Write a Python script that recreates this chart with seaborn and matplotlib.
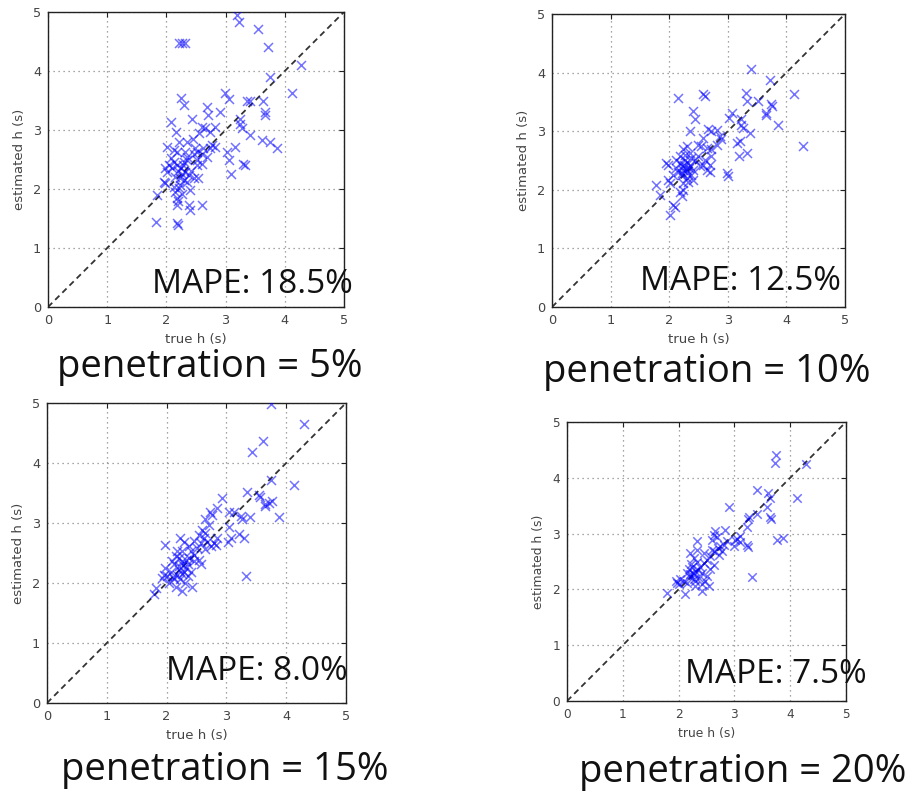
import matplotlib
matplotlib.use("Agg")
import matplotlib.pyplot as plt
import seaborn as sns
import pandas as pd

# ---- estimated vs. true headway, one sample set per penetration rate ----
true_h_5 = [3.19, 3.22, 3.55, 3.72, 2.22, 2.27, 2.31, 4.28, 3.75, 4.12,
            2.99, 3.06, 3.36, 3.41, 3.64, 2.25, 2.29, 2.68, 2.71, 2.91,
            3.66, 3.66, 3.24, 3.24, 3.27, 2.43, 2.08, 2.60, 2.66, 2.74,
            2.17, 3.41, 3.61, 3.75, 3.86, 2.01, 2.22, 2.35, 2.49, 2.74,
            2.82, 2.60, 3.03, 3.16, 3.05, 3.09, 3.30, 3.32, 2.12, 2.18,
            2.60, 2.29, 2.35, 1.98, 2.01, 1.96, 1.98, 1.84, 2.23, 2.23,
            2.21, 2.18, 2.18, 2.20, 2.38, 2.40, 2.40, 2.60, 1.82, 2.18,
            2.20, 2.54, 2.07, 2.52, 2.12, 2.18, 2.32, 2.46, 2.52, 2.68,
            2.77, 2.32, 2.38, 2.26, 2.15, 2.10, 2.46, 2.52, 2.35, 2.12,
            2.25, 2.28, 2.20, 2.30, 2.05, 2.15, 2.27, 2.42, 2.35, 2.62,
            2.45, 2.55, 2.82]
est_h_5 = [4.95, 4.83, 4.72, 4.41, 4.48, 4.48, 4.48, 4.10, 3.90, 3.63,
           3.62, 3.52, 3.50, 3.50, 3.50, 3.54, 3.42, 3.39, 3.25, 3.31,
           3.30, 3.26, 3.19, 3.11, 3.03, 3.19, 3.14, 3.05, 3.04, 2.97,
           2.97, 2.91, 2.83, 2.80, 2.69, 2.72, 2.79, 2.80, 2.70, 2.70,
           2.72, 2.60, 2.63, 2.72, 2.49, 2.26, 2.43, 2.41, 2.46, 2.41,
           2.43, 2.46, 2.49, 2.35, 2.29, 2.12, 2.10, 1.90, 2.18, 2.07,
           2.02, 1.84, 1.73, 1.79, 1.73, 1.65, 1.98, 1.73, 1.44, 1.42,
           1.39, 2.18, 2.52, 2.49, 2.66, 2.63, 2.63, 2.60, 2.63, 2.55,
           2.74, 2.29, 2.24, 2.26, 2.21, 2.35, 2.18, 2.41, 2.12, 2.04,
           2.35, 2.40, 2.30, 2.15, 2.40, 1.95, 1.92, 2.30, 2.55, 2.70,
           2.85, 2.95, 3.05]

true_h_10 = [3.40, 3.72, 4.13, 3.31, 3.32, 3.52, 3.74, 3.76, 2.15, 2.58,
             2.61, 2.40, 2.44, 3.08, 3.02, 3.23, 3.66, 3.65, 3.86, 3.23,
             3.26, 3.38, 4.28, 3.20, 3.15, 3.32, 3.19, 2.99, 3.00, 2.35,
             2.66, 2.72, 2.81, 2.89, 2.49, 2.58, 2.55, 2.64, 2.72, 2.81,
             2.72, 2.69, 2.58, 2.61, 2.30, 2.24, 1.95, 1.98, 1.78, 1.84,
             1.98, 2.01, 2.07, 2.10, 2.01, 2.18, 2.21, 2.24, 2.12, 2.18,
             2.21, 2.24, 2.30, 2.15, 2.27, 2.32, 2.35, 2.41, 2.21, 2.30,
             2.18, 2.38, 2.44, 2.35, 2.27, 2.12, 2.07, 2.38, 2.32, 2.24,
             2.41, 2.64, 2.69, 2.52, 2.49, 2.86, 2.25, 2.28, 2.22, 2.33]
est_h_10 = [4.06, 3.87, 3.63, 3.65, 3.51, 3.51, 3.46, 3.43, 3.57, 3.63,
            3.60, 3.34, 3.20, 3.31, 3.23, 3.20, 3.31, 3.28, 3.11, 3.11,
            3.06, 2.97, 2.74, 2.83, 2.80, 2.63, 2.57, 2.29, 2.24, 3.00,
            3.03, 3.01, 3.02, 2.86, 2.77, 2.89, 2.74, 2.71, 2.69, 2.77,
            2.57, 2.43, 2.43, 2.51, 2.74, 2.69, 2.46, 2.43, 2.09, 1.91,
            2.17, 2.11, 1.74, 1.71, 1.57, 1.97, 1.89, 2.00, 2.51, 2.46,
            2.40, 2.34, 2.29, 2.31, 2.51, 2.46, 2.40, 2.34, 2.26, 2.20,
            2.57, 2.54, 2.51, 2.63, 2.60, 2.37, 2.26, 2.26, 2.14, 2.11,
            2.17, 2.34, 2.31, 2.40, 2.57, 2.91, 2.42, 2.36, 2.28, 2.38]

true_h_15 = [3.74, 4.30, 3.62, 3.42, 3.74, 4.13, 3.34, 3.54, 3.56, 3.65,
             3.71, 3.64, 3.77, 3.88, 3.40, 2.93, 2.84, 3.04, 3.13, 3.24,
             3.26, 3.21, 3.30, 3.03, 3.07, 3.32, 2.60, 2.65, 2.71, 2.79,
             2.82, 1.98, 1.82, 1.79, 2.26, 2.43, 2.76, 2.72, 2.65, 3.04,
             2.23, 2.29, 2.18, 2.21, 2.26, 2.32, 2.35, 2.40, 2.46, 2.51,
             2.57, 2.62, 2.12, 2.07, 1.96, 2.01, 1.93, 2.12, 2.18, 2.23,
             2.29, 2.35, 2.15, 2.04, 2.40, 2.46, 2.54, 2.65, 2.74, 2.85,
             2.68, 2.57, 2.37, 2.26, 2.09, 2.21, 1.98, 2.20, 2.28, 2.15,
             2.32, 2.25, 2.10, 2.45, 2.55, 2.30, 2.38]
est_h_15 = [4.99, 4.65, 4.36, 4.18, 3.72, 3.64, 3.52, 3.47, 3.44, 3.32,
            3.34, 3.28, 3.36, 3.10, 3.10, 3.41, 3.25, 3.19, 3.18, 3.11,
            3.07, 2.81, 2.75, 2.69, 2.75, 2.11, 2.89, 2.83, 2.97, 2.67,
            2.63, 2.63, 1.92, 1.81, 1.86, 1.94, 3.14, 3.19, 3.06, 2.94,
            2.75, 2.69, 2.53, 2.42, 2.36, 2.39, 2.31, 2.53, 2.47, 2.58,
            2.67, 2.75, 2.31, 2.19, 2.14, 2.11, 2.08, 2.06, 2.14, 2.06,
            2.19, 2.11, 1.94, 2.00, 2.19, 2.36, 2.39, 2.56, 2.61, 2.75,
            2.69, 2.31, 2.61, 2.53, 2.36, 2.22, 2.25, 2.28, 2.30, 2.45,
            2.25, 2.15, 2.10, 2.70, 2.80, 2.00, 2.42]

true_h_20 = [3.74, 3.73, 4.28, 4.12, 3.40, 3.61, 3.64, 2.91, 3.27, 3.25,
             3.41, 3.58, 3.64, 3.65, 3.76, 3.87, 3.22, 3.01, 3.10, 3.04,
             3.10, 3.00, 3.24, 3.22, 3.31, 2.63, 2.66, 2.69, 2.84, 2.60,
             2.75, 2.78, 2.87, 2.33, 1.79, 1.96, 2.12, 2.42, 2.21, 2.27,
             2.33, 2.24, 2.18, 2.30, 2.39, 2.45, 2.51, 2.57, 2.42, 2.36,
             2.27, 2.15, 2.51, 2.48, 2.57, 2.63, 2.21, 2.09, 2.30, 2.42,
             2.03, 2.54, 2.72, 2.63, 2.81, 2.45, 2.33, 2.25, 2.20, 2.28,
             2.35, 2.22, 2.15, 2.30, 2.60, 2.70, 2.00, 1.98]
est_h_20 = [4.40, 4.26, 4.24, 3.63, 3.78, 3.72, 3.64, 3.48, 3.30, 3.26,
            3.36, 3.48, 3.30, 3.26, 2.89, 2.93, 3.12, 2.88, 2.85, 2.90,
            2.95, 2.77, 2.76, 2.80, 2.22, 2.98, 3.04, 2.94, 3.07, 2.89,
            2.77, 2.68, 2.86, 2.86, 1.94, 2.15, 1.91, 1.97, 2.65, 2.56,
            2.50, 2.41, 2.36, 2.33, 2.41, 2.47, 2.53, 2.59, 2.30, 2.21,
            2.18, 2.12, 2.24, 2.15, 2.36, 2.44, 2.27, 2.15, 2.06, 2.09,
            2.18, 2.06, 2.62, 2.68, 2.80, 2.65, 2.71, 2.30, 2.22, 2.25,
            2.35, 2.45, 2.30, 2.15, 2.70, 2.75, 2.10, 2.12]

penetration = ["5%", "10%", "15%", "20%"]
mape = ["18.5%", "12.5%", "8.0%", "7.5%"]
axis_ticks = [0, 1, 2, 3, 4, 5]

frames = []
for pen, xs, ys in zip(penetration,
                       [true_h_5, true_h_10, true_h_15, true_h_20],
                       [est_h_5, est_h_10, est_h_15, est_h_20]):
    frames.append(pd.DataFrame({"true": xs, "est": ys, "penetration": pen}))
df = pd.concat(frames, ignore_index=True)

sns.set_style("white")
plt.rcParams["font.family"] = ["DejaVu Sans"]

W, H = 913, 797
fig = plt.figure(figsize=(W / 100, H / 100), dpi=100)
fig.patch.set_facecolor("white")

# panel frames in pixels: left, top, right, bottom
boxes = [(48, 12, 344, 307), (552, 14, 845, 307),
         (47, 403, 346, 703), (567, 422, 846, 701)]
mape_xy = [(252, 293), (740, 290), (257, 680), (776, 683)]
title_xy = [(210, 377), (707, 382), (225, 780), (743, 782)]
shrink = [1.0, 1.0, 1.0, 0.94]

for i, pen in enumerate(penetration):
    l, t, r, b = boxes[i]
    k = shrink[i]
    ax = fig.add_axes([l / W, 1 - b / H, (r - l) / W, (b - t) / H])
    sub = df[df["penetration"] == pen]

    # y = x reference line
    ax.plot([0, 5], [0, 5], color="#333333", lw=1.3, ls="--",
            dashes=(3.3, 2.3), zorder=2)
    sns.scatterplot(data=sub, x="true", y="est", marker="x",
                    color="#0000ff", s=42 * k * k, linewidth=1.1,
                    alpha=0.55, legend=False, ax=ax, zorder=3)

    ax.set_xlim(0, 5)
    ax.set_ylim(0, 5)
    ax.set_xticks(axis_ticks)
    ax.set_yticks(axis_ticks)
    ax.set_axisbelow(True)
    ax.grid(True, ls=(0, (1, 3)), color="#888888", lw=0.9)
    ax.tick_params(direction="in", top=True, right=True, length=3.5,
                   width=0.8, color="#222222", labelsize=9.3 * k,
                   labelcolor="#444444", pad=5)
    for sp in ax.spines.values():
        sp.set_visible(True)
        sp.set_color("#222222")
        sp.set_linewidth(1.0)
    ax.set_xlabel("true h (s)", fontsize=9.5 * k, color="#444444", labelpad=4)
    ax.set_ylabel("estimated h (s)", fontsize=9.5 * k, color="#444444",
                  labelpad=5)

    mx, my = mape_xy[i]
    fig.text(mx / W, 1 - my / H, f"MAPE: {mape[i]}", ha="center",
             va="baseline", fontsize=24, family=["Open Sans", "DejaVu Sans"],
             color="#111111", zorder=5)
    tx, ty = title_xy[i]
    fig.text(tx / W, 1 - ty / H, f"penetration = {pen}", ha="center",
             va="baseline", fontsize=27.5, family=["Open Sans", "DejaVu Sans"],
             color="#111111")

fig.savefig("out.png", dpi=100, facecolor="white")
